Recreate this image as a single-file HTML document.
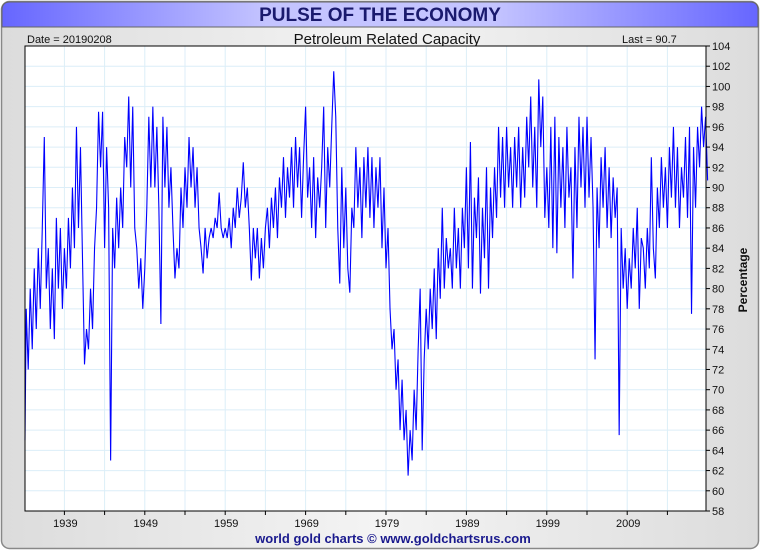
<!DOCTYPE html>
<html><head><meta charset="utf-8"><style>
html,body{margin:0;padding:0;background:#fff;}
svg{display:block;font-family:"Liberation Sans",sans-serif;}
</style></head><body>
<svg id="chart" width="760" height="550" viewBox="0 0 760 550">
<defs>
<linearGradient id="bg" x1="0" x2="1" y1="0" y2="0"><stop offset="0" stop-color="#dcdcdc"/><stop offset="0.5" stop-color="#f4f4f4"/><stop offset="1" stop-color="#dcdcdc"/></linearGradient>
<linearGradient id="tb" x1="0" x2="1" y1="0" y2="0"><stop offset="0" stop-color="#6666ff"/><stop offset="0.35" stop-color="#c4c4ff"/><stop offset="0.65" stop-color="#c4c4ff"/><stop offset="1" stop-color="#6666ff"/></linearGradient>
</defs>
<rect x="1.5" y="1.5" width="757" height="547" rx="8" fill="url(#bg)" stroke="#888" stroke-width="1.5"/>
<path d="M2 27 L2 10 Q2 2 10 2 L750 2 Q758 2 758 10 L758 27 Z" fill="url(#tb)" stroke="#666" stroke-width="1"/>
<text x="380" y="21" text-anchor="middle" font-size="19" font-weight="bold" fill="#1a1a6e">PULSE OF THE ECONOMY</text>
<text x="27" y="43" font-size="11" fill="#111">Date = 20190208</text>
<text x="387" y="44" text-anchor="middle" font-size="15" fill="#111">Petroleum Related Capacity</text>
<text x="622" y="43" font-size="11" fill="#111">Last = 90.7</text>
<rect x="25" y="46" width="681" height="465" fill="#fff"/>
<g id="grid"></g>
<g id="series"></g>
<rect x="25" y="46" width="681" height="465" fill="none" stroke="#000" stroke-width="1"/>
<g id="axes"></g>
<text transform="translate(747,280) rotate(-90)" text-anchor="middle" font-size="12" font-weight="bold" fill="#111">Percentage</text>
<text x="393" y="543" text-anchor="middle" font-size="13" font-weight="bold" fill="#1a1a8e">world gold charts © www.goldchartsrus.com</text>
</svg>
<script>
const startYear = 1934.0;
const perYear = 4;
const values = [
65,78,72,80, 74,82,76,84, 78,86,95,80, 84,76,82,75, 87,80,86,78,
84,80,87,82, 90,84,96,86, 94,83,72.5,76, 74,80,76,84, 88,97.5,92,97.5,
84,94,88,63, 86,82,89,84, 90,86,95,92, 99,90,98,86, 84,80,83,78,
82,88,97,90, 98,90,96,88, 76.5,97,90,96, 88,92,86,81, 84,82,90,86,
92,88,95,90, 94,88,92,86, 84,81.5,86,83, 85,86,85,87, 86,89.5,86,85,
86,85,87,84, 88,86,90,87, 89,92.5,88,90, 86,80.8,86,83, 86,81,85,82,
86,88,84,89, 86,90,85,91, 88,93,87,92, 89,94,88,95, 90,94,87,93,
98,89,92,86, 93,85,91,88, 92,98,86,94, 90,96,101.5,97, 86,80.5,92,84,
90,82,79.6,88, 86,94,88,92, 85,93,88,94, 87,93,86,92, 88,93,84,90,
82,86,78,74, 76,70,73,66, 71,65,68,61.5, 66,63,70,66, 74,80,64,73,
78,74,80,76, 82,75,84,79, 88,80,85,82, 84,80,88,82, 86,80,88,84,
92,82,94.5,80, 89,85,91,79.5, 88,83,92,80, 90,85,92,87, 96,89,95,88,
96,90,94,88, 95,90,96,88, 94,89,97,92, 99,90,96,88, 100.7,94,99,87,
92,86,96,84, 97,83.5,95,88, 94,86,96,89, 92,81,94,86, 97,90,96,88,
97,89,95,88, 73,90,84,93, 88,94,86,92, 85,91,87,90, 65.5,86,80,84,
78,83,80,86, 82,88,78,85, 84,80,86,82, 93,84,81,90, 86,93,88,92,
86,94,89,96, 88,94,86,92, 89,95,87,96, 77.5,94,88,96, 92,98,94,97,
90.7
];
const yTicks = [58,60,62,64,66,68,70,72,74,76,78,80,82,84,86,88,90,92,94,96,98,100,102,104];
const xLabels = [1939,1949,1959,1969,1979,1989,1999,2009];
const xTicks = [1939,1944,1949,1954,1959,1964,1969,1974,1979,1984,1989,1994,1999,2004,2009,2014];

const X0=25,X1=706,Y0=46,Y1=511, XMIN=1934.1, XMAX=2018.8, YMIN=58, YMAX=104;
function xs(t){return X0+(t-XMIN)/(XMAX-XMIN)*(X1-X0);}
function ys(v){return Y1-(v-YMIN)/(YMAX-YMIN)*(Y1-Y0);}
const NS='http://www.w3.org/2000/svg';
const grid=document.getElementById('grid'), axes=document.getElementById('axes'), series=document.getElementById('series');
function mk(tag,attrs,parent){const e=document.createElementNS(NS,tag);for(const k in attrs)e.setAttribute(k,attrs[k]);parent.appendChild(e);return e;}
yTicks.forEach(v=>{
  const y=ys(v);
  const g=mk('line',{x1:X0,x2:X1,y1:y,y2:y,stroke:'#dceef8','stroke-width':1},grid);
  
  
  const tk=mk('line',{x1:X1,x2:X1+4,y1:y,y2:y,stroke:'#000'},axes);
  
  
  const t=mk('text',{x:X1+6,y:y+4,'font-size':11,fill:'#111'},axes);
  t.textContent=v;
  
  
});
xTicks.forEach(yr=>{
  const x=xs(yr);
  const g=mk('line',{x1:x,x2:x,y1:Y0,y2:Y1,stroke:'#dceef8','stroke-width':1},grid);
  
  
  const tk=mk('line',{x1:x,x2:x,y1:Y1,y2:Y1+4,stroke:'#000'},axes);
  
  
});
xLabels.forEach(yr=>{
  const t=mk('text',{x:xs(yr)+1,y:527,'text-anchor':'middle','font-size':11,fill:'#111'},axes);
  t.textContent=yr;
  
  
});
let d='';
values.forEach((v,i)=>{const t=startYear+i/perYear;d+=(i?'L':'M')+xs(Math.max(t,XMIN)).toFixed(2)+' '+ys(v).toFixed(2);});
const line=mk('path',{d:d,fill:'none',stroke:'#0000ff','stroke-width':1.1,'stroke-linejoin':'miter'},series);


</script>
</body></html>
